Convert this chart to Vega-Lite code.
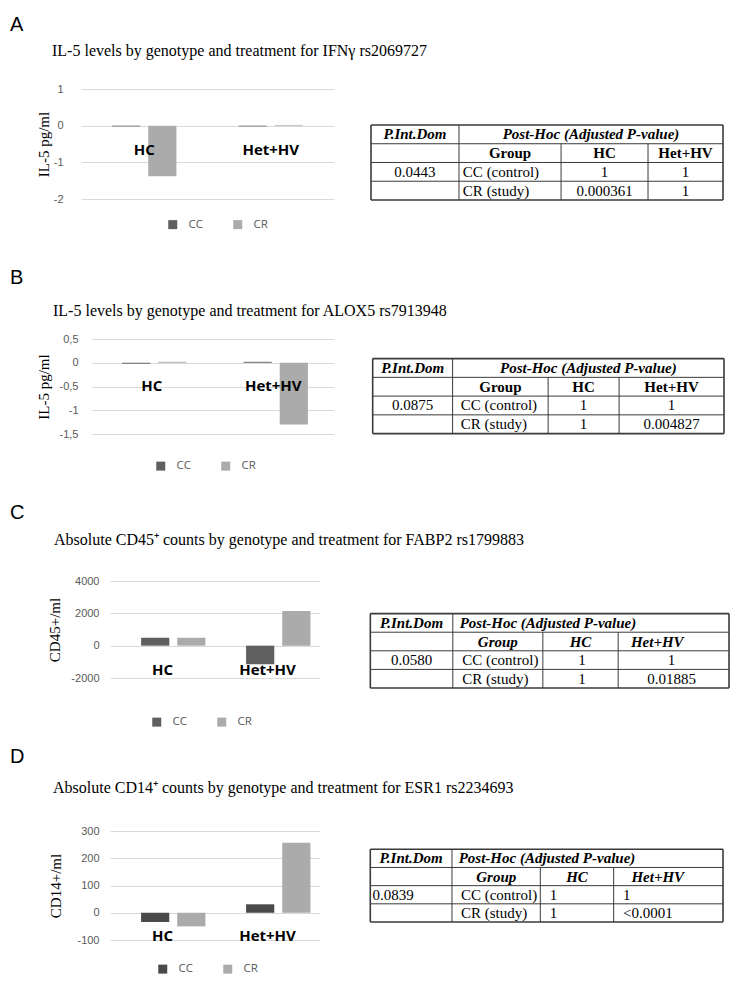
{
"$schema": "https://vega.github.io/schema/vega-lite/v6.json",
"background": "white",
"padding": {"left": 10, "top": 15, "right": 5, "bottom": 5},
"spacing": 0,
"resolve": {"scale": {"color": "independent"}, "legend": {"color": "independent"}},
"datasets": {
"bars": [
{"panel":"A","geno":"HC","trt":"CC","value":-0.02},
{"panel":"A","geno":"HC","trt":"CR","value":-1.38},
{"panel":"A","geno":"Het+HV","trt":"CC","value":-0.02},
{"panel":"A","geno":"Het+HV","trt":"CR","value":0.02},
{"panel":"B","geno":"HC","trt":"CC","value":-0.02},
{"panel":"B","geno":"HC","trt":"CR","value":0.02},
{"panel":"B","geno":"Het+HV","trt":"CC","value":0.02},
{"panel":"B","geno":"Het+HV","trt":"CR","value":-1.3},
{"panel":"C","geno":"HC","trt":"CC","value":490},
{"panel":"C","geno":"HC","trt":"CR","value":490},
{"panel":"C","geno":"Het+HV","trt":"CC","value":-1150},
{"panel":"C","geno":"Het+HV","trt":"CR","value":2150},
{"panel":"D","geno":"HC","trt":"CC","value":-34},
{"panel":"D","geno":"HC","trt":"CR","value":-50},
{"panel":"D","geno":"Het+HV","trt":"CC","value":31},
{"panel":"D","geno":"Het+HV","trt":"CR","value":257}
],
"genos": [{"geno":"HC"},{"geno":"Het+HV"}],
"empty": [],
"frame": [
{"x":0,"xe":1,"row":0,"rowe":0},
{"x":0,"xe":1,"row":4,"rowe":4},
{"x":0,"xe":0,"row":0,"rowe":4},
{"x":1,"xe":1,"row":0,"rowe":4}
],
"hlines": [
{"x":0,"xe":1,"row":1,"rowe":1},
{"x":0,"xe":1,"row":2,"rowe":2},
{"x":0,"xe":1,"row":3,"rowe":3}
],
"vlines": [
{"t":"A","x":0.25,"xe":0.25,"row":0,"rowe":4},
{"t":"A","x":0.54,"xe":0.54,"row":1,"rowe":4},
{"t":"A","x":0.787,"xe":0.787,"row":1,"rowe":4},
{"t":"B","x":0.2275,"xe":0.2275,"row":0,"rowe":4},
{"t":"B","x":0.4994,"xe":0.4994,"row":1,"rowe":4},
{"t":"B","x":0.7014,"xe":0.7014,"row":1,"rowe":4},
{"t":"C","x":0.23,"xe":0.23,"row":0,"rowe":4},
{"t":"C","x":0.481,"xe":0.481,"row":1,"rowe":4},
{"t":"C","x":0.691,"xe":0.691,"row":1,"rowe":4},
{"t":"D","x":0.2316,"xe":0.2316,"row":0,"rowe":4},
{"t":"D","x":0.482,"xe":0.482,"row":1,"rowe":4},
{"t":"D","x":0.69,"xe":0.69,"row":1,"rowe":4}
],
"headC": [
{"t":"A","x":0.125,"row":0.5,"text":"P.Int.Dom"},
{"t":"A","x":0.625,"row":0.5,"text":"Post-Hoc (Adjusted P-value)"},
{"t":"B","x":0.1138,"row":0.5,"text":"P.Int.Dom"},
{"t":"B","x":0.6138,"row":0.5,"text":"Post-Hoc (Adjusted P-value)"},
{"t":"C","x":0.115,"row":0.5,"text":"P.Int.Dom"},
{"t":"D","x":0.1158,"row":0.5,"text":"P.Int.Dom"}
],
"headL": [
{"t":"C","x":0.249,"row":0.5,"text":"Post-Hoc (Adjusted P-value)"},
{"t":"D","x":0.2506,"row":0.5,"text":"Post-Hoc (Adjusted P-value)"}
],
"subB": [
{"t":"A","x":0.395,"row":1.5,"text":"Group"},
{"t":"A","x":0.6635,"row":1.5,"text":"HC"},
{"t":"A","x":0.8935,"row":1.5,"text":"Het+HV"},
{"t":"B","x":0.3635,"row":1.5,"text":"Group"},
{"t":"B","x":0.6004,"row":1.5,"text":"HC"},
{"t":"B","x":0.8507,"row":1.5,"text":"Het+HV"}
],
"subBI": [
{"t":"C","x":0.3555,"row":1.5,"text":"Group"},
{"t":"C","x":0.586,"row":1.5,"text":"HC"},
{"t":"C","x":0.8,"row":1.5,"text":"Het+HV"},
{"t":"D","x":0.357,"row":1.5,"text":"Group"},
{"t":"D","x":0.586,"row":1.5,"text":"HC"},
{"t":"D","x":0.815,"row":1.5,"text":"Het+HV"}
],
"bodyC": [
{"t":"A","x":0.125,"row":2.5,"text":"0.0443"},
{"t":"A","x":0.6635,"row":2.5,"text":"1"},
{"t":"A","x":0.8935,"row":2.5,"text":"1"},
{"t":"A","x":0.6635,"row":3.5,"text":"0.000361"},
{"t":"A","x":0.8935,"row":3.5,"text":"1"},
{"t":"B","x":0.1138,"row":2.5,"text":"0.0875"},
{"t":"B","x":0.6004,"row":2.5,"text":"1"},
{"t":"B","x":0.8507,"row":2.5,"text":"1"},
{"t":"B","x":0.6004,"row":3.5,"text":"1"},
{"t":"B","x":0.8507,"row":3.5,"text":"0.004827"},
{"t":"C","x":0.115,"row":2.5,"text":"0.0580"},
{"t":"C","x":0.59,"row":2.5,"text":"1"},
{"t":"C","x":0.84,"row":2.5,"text":"1"},
{"t":"C","x":0.59,"row":3.5,"text":"1"},
{"t":"C","x":0.84,"row":3.5,"text":"0.01885"}
],
"bodyL": [
{"t":"A","x":0.261,"row":2.5,"text":"CC (control)"},
{"t":"A","x":0.261,"row":3.5,"text":"CR (study)"},
{"t":"B","x":0.251,"row":2.5,"text":"CC (control)"},
{"t":"B","x":0.251,"row":3.5,"text":"CR (study)"},
{"t":"C","x":0.256,"row":2.5,"text":"CC (control)"},
{"t":"C","x":0.256,"row":3.5,"text":"CR (study)"},
{"t":"D","x":0.257,"row":2.5,"text":"CC (control)"},
{"t":"D","x":0.257,"row":3.5,"text":"CR (study)"},
{"t":"D","x":0.006,"row":2.5,"text":"0.0839"},
{"t":"D","x":0.5085,"row":2.5,"text":"1"},
{"t":"D","x":0.7165,"row":2.5,"text":"1"},
{"t":"D","x":0.5085,"row":3.5,"text":"1"},
{"t":"D","x":0.7165,"row":3.5,"text":"<0.0001"}
]
},
"vconcat": [
{
"title": {"text": "A", "font": "Liberation Sans", "fontSize": 20, "dx": 0, "offset": 8},
"resolve": {"scale": {"color": "independent"}, "legend": {"color": "independent"}},
"vconcat": [{
"title": {"text": "IL-5 levels by genotype and treatment for IFNγ rs2069727", "font": "Liberation Serif", "fontSize": 16, "dx": 42, "offset": 24},
"spacing": 0,
"resolve": {"scale": {"color": "independent"}, "legend": {"color": "independent"}},
"hconcat": [
{"width": 26, "height": 1, "data": {"name": "empty"}, "mark": "point", "encoding": {}},
{
"width": 253, "height": 110,
"encoding": {"x": {"field": "geno", "type": "nominal", "sort": ["HC","Het+HV"], "axis": null, "scale": {"paddingInner": 0, "paddingOuter": 0}}},
"layer": [
{"data": {"name": "bars"}, "transform": [{"filter": "datum.panel == 'A'"}],
"mark": {"type": "bar"},
"encoding": {
"xOffset": {"field": "trt", "type": "nominal", "sort": ["CC","CR"], "scale": {"paddingInner": 0.22, "paddingOuter": 0.86}},
"y": {"field": "value", "type": "quantitative", "scale": {"domain": [-2, 1], "nice": false, "zero": false}, "axis": {"values": [-2,-1,0,1], "tickCount": 10, "title": "IL-5 pg/ml", "labelExpr": "'' + datum.value", "labelPadding": 18, "titlePadding": 2}},
"color": {"field": "trt", "type": "nominal", "scale": {"domain": ["CC","CR"], "range": ["#5f5f5f","#ababab"]}, "legend": {"title": null, "orient": "none", "legendX": 86, "legendY": 129.5}}
}},
{"data": {"name": "genos"},
"mark": {"type": "text", "dy": 24, "font": "Open Sans", "fontWeight": "bold", "fontSize": 15, "color": "black"},
"encoding": {"y": {"datum": 0, "type": "quantitative"}, "text": {"field": "geno"}}}
]
},
{
"width": 389, "height": 179,
"encoding": {
"x": {"field": "x", "type": "quantitative", "axis": null, "scale": {"domain": [-0.1051, 1], "nice": false, "zero": false}},
"y": {"field": "row", "type": "quantitative", "axis": null, "scale": {"domain": [-1.92, 7.627], "reverse": true, "nice": false, "zero": false}}
},
"layer": [
{"data": {"name": "hlines"}, "mark": {"type": "rule", "color": "#3a3a3a", "strokeWidth": 1}, "encoding": {"x2": {"field": "xe"}, "y2": {"field": "rowe"}}},
{"data": {"name": "vlines"}, "transform": [{"filter": "datum.t == 'A'"}], "mark": {"type": "rule", "color": "#3a3a3a", "strokeWidth": 1}, "encoding": {"x2": {"field": "xe"}, "y2": {"field": "rowe"}}},
{"data": {"name": "frame"}, "mark": {"type": "rule", "color": "#3a3a3a", "strokeWidth": 1.6}, "encoding": {"x2": {"field": "xe"}, "y2": {"field": "rowe"}}},
{"data": {"name": "headC"}, "transform": [{"filter": "datum.t == 'A'"}], "mark": {"type": "text", "font": "Liberation Serif", "fontSize": 15, "fontWeight": "bold", "fontStyle": "italic", "align": "center", "baseline": "middle", "color": "black"}, "encoding": {"text": {"field": "text"}}},
{"data": {"name": "subB"}, "transform": [{"filter": "datum.t == 'A'"}], "mark": {"type": "text", "font": "Liberation Serif", "fontSize": 15, "fontWeight": "bold", "align": "center", "baseline": "middle", "color": "black"}, "encoding": {"text": {"field": "text"}}},
{"data": {"name": "bodyC"}, "transform": [{"filter": "datum.t == 'A'"}], "mark": {"type": "text", "font": "Liberation Serif", "fontSize": 15, "align": "center", "baseline": "middle", "color": "black"}, "encoding": {"text": {"field": "text"}}},
{"data": {"name": "bodyL"}, "transform": [{"filter": "datum.t == 'A'"}], "mark": {"type": "text", "font": "Liberation Serif", "fontSize": 15, "align": "left", "baseline": "middle", "color": "black"}, "encoding": {"text": {"field": "text"}}}
]
}
]
}]
},
{
"title": {"text": "B", "font": "Liberation Sans", "fontSize": 20, "dx": 0, "offset": 15},
"resolve": {"scale": {"color": "independent"}, "legend": {"color": "independent"}},
"vconcat": [{
"title": {"text": "IL-5 levels by genotype and treatment for ALOX5 rs7913948", "font": "Liberation Serif", "fontSize": 16, "dx": 43, "offset": 14},
"spacing": 0,
"resolve": {"scale": {"color": "independent"}, "legend": {"color": "independent"}},
"hconcat": [
{"width": 26, "height": 1, "data": {"name": "empty"}, "mark": "point", "encoding": {}},
{
"width": 243, "height": 95,
"encoding": {"x": {"field": "geno", "type": "nominal", "sort": ["HC","Het+HV"], "axis": null, "scale": {"paddingInner": 0, "paddingOuter": 0}}},
"layer": [
{"data": {"name": "bars"}, "transform": [{"filter": "datum.panel == 'B'"}],
"mark": {"type": "bar"},
"encoding": {
"xOffset": {"field": "trt", "type": "nominal", "sort": ["CC","CR"], "scale": {"paddingInner": 0.2, "paddingOuter": 0.86}},
"y": {"field": "value", "type": "quantitative", "scale": {"domain": [-1.5, 0.5], "nice": false, "zero": false}, "axis": {"values": [-1.5,-1,-0.5,0,0.5], "tickCount": 10, "title": "IL-5 pg/ml", "labelExpr": "replace('' + datum.value, '.', ',')", "labelPadding": 13, "titlePadding": 7.5}},
"color": {"field": "trt", "type": "nominal", "scale": {"domain": ["CC","CR"], "range": ["#5f5f5f","#ababab"]}, "legend": {"title": null, "orient": "none", "legendX": 64, "legendY": 121}}
}},
{"data": {"name": "genos"},
"mark": {"type": "text", "dy": 23, "font": "Open Sans", "fontWeight": "bold", "fontSize": 15, "color": "black"},
"encoding": {"y": {"datum": 0, "type": "quantitative"}, "text": {"field": "geno"}}}
]
},
{
"width": 390, "height": 164,
"encoding": {
"x": {"field": "x", "type": "quantitative", "axis": null, "scale": {"domain": [-0.1101, 1], "nice": false, "zero": false}},
"y": {"field": "row", "type": "quantitative", "axis": null, "scale": {"domain": [-1.045, 7.701], "reverse": true, "nice": false, "zero": false}}
},
"layer": [
{"data": {"name": "hlines"}, "mark": {"type": "rule", "color": "#3a3a3a", "strokeWidth": 1}, "encoding": {"x2": {"field": "xe"}, "y2": {"field": "rowe"}}},
{"data": {"name": "vlines"}, "transform": [{"filter": "datum.t == 'B'"}], "mark": {"type": "rule", "color": "#3a3a3a", "strokeWidth": 1}, "encoding": {"x2": {"field": "xe"}, "y2": {"field": "rowe"}}},
{"data": {"name": "frame"}, "mark": {"type": "rule", "color": "#3a3a3a", "strokeWidth": 1.6}, "encoding": {"x2": {"field": "xe"}, "y2": {"field": "rowe"}}},
{"data": {"name": "headC"}, "transform": [{"filter": "datum.t == 'B'"}], "mark": {"type": "text", "font": "Liberation Serif", "fontSize": 15, "fontWeight": "bold", "fontStyle": "italic", "align": "center", "baseline": "middle", "color": "black"}, "encoding": {"text": {"field": "text"}}},
{"data": {"name": "subB"}, "transform": [{"filter": "datum.t == 'B'"}], "mark": {"type": "text", "font": "Liberation Serif", "fontSize": 15, "fontWeight": "bold", "align": "center", "baseline": "middle", "color": "black"}, "encoding": {"text": {"field": "text"}}},
{"data": {"name": "bodyC"}, "transform": [{"filter": "datum.t == 'B'"}], "mark": {"type": "text", "font": "Liberation Serif", "fontSize": 15, "align": "center", "baseline": "middle", "color": "black"}, "encoding": {"text": {"field": "text"}}},
{"data": {"name": "bodyL"}, "transform": [{"filter": "datum.t == 'B'"}], "mark": {"type": "text", "font": "Liberation Serif", "fontSize": 15, "align": "left", "baseline": "middle", "color": "black"}, "encoding": {"text": {"field": "text"}}}
]
}
]
}]
},
{
"title": {"text": "C", "font": "Liberation Sans", "fontSize": 20, "dx": 0, "offset": 9},
"resolve": {"scale": {"color": "independent"}, "legend": {"color": "independent"}},
"vconcat": [{
"title": {"text": "Absolute CD45⁺ counts by genotype and treatment for FABP2 rs1799883", "font": "Liberation Serif", "fontSize": 16, "dx": 44, "offset": 27},
"spacing": 0,
"resolve": {"scale": {"color": "independent"}, "legend": {"color": "independent"}},
"hconcat": [
{"width": 37, "height": 1, "data": {"name": "empty"}, "mark": "point", "encoding": {}},
{
"width": 210, "height": 97,
"encoding": {"x": {"field": "geno", "type": "nominal", "sort": ["HC","Het+HV"], "axis": null, "scale": {"paddingInner": 0, "paddingOuter": 0}}},
"layer": [
{"data": {"name": "bars"}, "transform": [{"filter": "datum.panel == 'C'"}],
"mark": {"type": "bar"},
"encoding": {
"xOffset": {"field": "trt", "type": "nominal", "sort": ["CC","CR"], "scale": {"paddingInner": 0.233, "paddingOuter": 0.867}},
"y": {"field": "value", "type": "quantitative", "scale": {"domain": [-2000, 4000], "nice": false, "zero": false}, "axis": {"values": [-2000,0,2000,4000], "tickCount": 10, "title": "CD45+/ml", "labelExpr": "'' + datum.value", "labelPadding": 11, "titlePadding": 8.5}},
"color": {"field": "trt", "type": "nominal", "scale": {"domain": ["CC","CR"], "range": ["#5f5f5f","#ababab"]}, "legend": {"title": null, "orient": "none", "legendX": 41, "legendY": 135}}
}},
{"data": {"name": "genos"},
"mark": {"type": "text", "dy": 24, "font": "Open Sans", "fontWeight": "bold", "fontSize": 15, "color": "black"},
"encoding": {"y": {"datum": 0, "type": "quantitative"}, "text": {"field": "geno"}}}
]
},
{
"width": 409, "height": 165,
"encoding": {
"x": {"field": "x", "type": "quantitative", "axis": null, "scale": {"domain": [-0.1403, 1], "nice": false, "zero": false}},
"y": {"field": "row", "type": "quantitative", "axis": null, "scale": {"domain": [-1.753, 7.118], "reverse": true, "nice": false, "zero": false}}
},
"layer": [
{"data": {"name": "hlines"}, "mark": {"type": "rule", "color": "#3a3a3a", "strokeWidth": 1}, "encoding": {"x2": {"field": "xe"}, "y2": {"field": "rowe"}}},
{"data": {"name": "vlines"}, "transform": [{"filter": "datum.t == 'C'"}], "mark": {"type": "rule", "color": "#3a3a3a", "strokeWidth": 1}, "encoding": {"x2": {"field": "xe"}, "y2": {"field": "rowe"}}},
{"data": {"name": "frame"}, "mark": {"type": "rule", "color": "#3a3a3a", "strokeWidth": 1.6}, "encoding": {"x2": {"field": "xe"}, "y2": {"field": "rowe"}}},
{"data": {"name": "headC"}, "transform": [{"filter": "datum.t == 'C'"}], "mark": {"type": "text", "font": "Liberation Serif", "fontSize": 15, "fontWeight": "bold", "fontStyle": "italic", "align": "center", "baseline": "middle", "color": "black"}, "encoding": {"text": {"field": "text"}}},
{"data": {"name": "headL"}, "transform": [{"filter": "datum.t == 'C'"}], "mark": {"type": "text", "font": "Liberation Serif", "fontSize": 15, "fontWeight": "bold", "fontStyle": "italic", "align": "left", "baseline": "middle", "color": "black"}, "encoding": {"text": {"field": "text"}}},
{"data": {"name": "subBI"}, "transform": [{"filter": "datum.t == 'C'"}], "mark": {"type": "text", "font": "Liberation Serif", "fontSize": 15, "fontWeight": "bold", "fontStyle": "italic", "align": "center", "baseline": "middle", "color": "black"}, "encoding": {"text": {"field": "text"}}},
{"data": {"name": "bodyC"}, "transform": [{"filter": "datum.t == 'C'"}], "mark": {"type": "text", "font": "Liberation Serif", "fontSize": 15, "align": "center", "baseline": "middle", "color": "black"}, "encoding": {"text": {"field": "text"}}},
{"data": {"name": "bodyL"}, "transform": [{"filter": "datum.t == 'C'"}], "mark": {"type": "text", "font": "Liberation Serif", "fontSize": 15, "align": "left", "baseline": "middle", "color": "black"}, "encoding": {"text": {"field": "text"}}}
]
}
]
}]
},
{
"title": {"text": "D", "font": "Liberation Sans", "fontSize": 20, "dx": 0, "offset": 13},
"resolve": {"scale": {"color": "independent"}, "legend": {"color": "independent"}},
"vconcat": [{
"title": {"text": "Absolute CD14⁺ counts by genotype and treatment for ESR1 rs2234693", "font": "Liberation Serif", "fontSize": 16, "dx": 43, "offset": 29.5},
"spacing": 0,
"resolve": {"scale": {"color": "independent"}, "legend": {"color": "independent"}},
"hconcat": [
{"width": 38, "height": 1, "data": {"name": "empty"}, "mark": "point", "encoding": {}},
{
"width": 210, "height": 109,
"encoding": {"x": {"field": "geno", "type": "nominal", "sort": ["HC","Het+HV"], "axis": null, "scale": {"paddingInner": 0, "paddingOuter": 0}}},
"layer": [
{"data": {"name": "bars"}, "transform": [{"filter": "datum.panel == 'D'"}],
"mark": {"type": "bar"},
"encoding": {
"xOffset": {"field": "trt", "type": "nominal", "sort": ["CC","CR"], "scale": {"paddingInner": 0.2, "paddingOuter": 0.85}},
"y": {"field": "value", "type": "quantitative", "scale": {"domain": [-100, 300], "nice": false, "zero": false}, "axis": {"values": [-100,0,100,200,300], "tickCount": 10, "title": "CD14+/ml", "labelExpr": "'' + datum.value", "labelPadding": 11, "titlePadding": 13.5}},
"color": {"field": "trt", "type": "nominal", "scale": {"domain": ["CC","CR"], "range": ["#4a4a4a","#ababab"]}, "legend": {"title": null, "orient": "none", "legendX": 47, "legendY": 132}}
}},
{"data": {"name": "genos"},
"mark": {"type": "text", "dy": 23, "font": "Open Sans", "fontWeight": "bold", "fontSize": 15, "color": "black"},
"encoding": {"y": {"datum": 0, "type": "quantitative"}, "text": {"field": "geno"}}}
]
},
{
"width": 403, "height": 145,
"encoding": {
"x": {"field": "x", "type": "quantitative", "axis": null, "scale": {"domain": [-0.1426, 1], "nice": false, "zero": false}},
"y": {"field": "row", "type": "quantitative", "axis": null, "scale": {"domain": [-1.007, 6.971], "reverse": true, "nice": false, "zero": false}}
},
"layer": [
{"data": {"name": "hlines"}, "mark": {"type": "rule", "color": "#3a3a3a", "strokeWidth": 1}, "encoding": {"x2": {"field": "xe"}, "y2": {"field": "rowe"}}},
{"data": {"name": "vlines"}, "transform": [{"filter": "datum.t == 'D'"}], "mark": {"type": "rule", "color": "#3a3a3a", "strokeWidth": 1}, "encoding": {"x2": {"field": "xe"}, "y2": {"field": "rowe"}}},
{"data": {"name": "frame"}, "mark": {"type": "rule", "color": "#3a3a3a", "strokeWidth": 1.6}, "encoding": {"x2": {"field": "xe"}, "y2": {"field": "rowe"}}},
{"data": {"name": "headC"}, "transform": [{"filter": "datum.t == 'D'"}], "mark": {"type": "text", "font": "Liberation Serif", "fontSize": 15, "fontWeight": "bold", "fontStyle": "italic", "align": "center", "baseline": "middle", "color": "black"}, "encoding": {"text": {"field": "text"}}},
{"data": {"name": "headL"}, "transform": [{"filter": "datum.t == 'D'"}], "mark": {"type": "text", "font": "Liberation Serif", "fontSize": 15, "fontWeight": "bold", "fontStyle": "italic", "align": "left", "baseline": "middle", "color": "black"}, "encoding": {"text": {"field": "text"}}},
{"data": {"name": "subBI"}, "transform": [{"filter": "datum.t == 'D'"}], "mark": {"type": "text", "font": "Liberation Serif", "fontSize": 15, "fontWeight": "bold", "fontStyle": "italic", "align": "center", "baseline": "middle", "color": "black"}, "encoding": {"text": {"field": "text"}}},
{"data": {"name": "bodyL"}, "transform": [{"filter": "datum.t == 'D'"}], "mark": {"type": "text", "font": "Liberation Serif", "fontSize": 15, "align": "left", "baseline": "middle", "color": "black"}, "encoding": {"text": {"field": "text"}}}
]
}
]
}]
}
],
"config": {
"view": {"stroke": null},
"title": {"anchor": "start", "fontWeight": "normal", "color": "black"},
"axis": {"domain": false, "ticks": false, "grid": true, "gridColor": "#d9d9d9", "labelFont": "Liberation Sans", "labelFontSize": 11, "labelColor": "#595959", "labelOverlap": false, "titleFont": "Liberation Serif", "titleFontSize": 15, "titleFontWeight": "normal", "titleColor": "black"},
"legend": {"direction": "horizontal", "symbolType": "square", "symbolSize": 81, "symbolStrokeWidth": 0, "labelFont": "Open Sans", "labelFontSize": 11.5, "labelColor": "#595959", "columnPadding": 29, "labelOffset": 10}
}
}
